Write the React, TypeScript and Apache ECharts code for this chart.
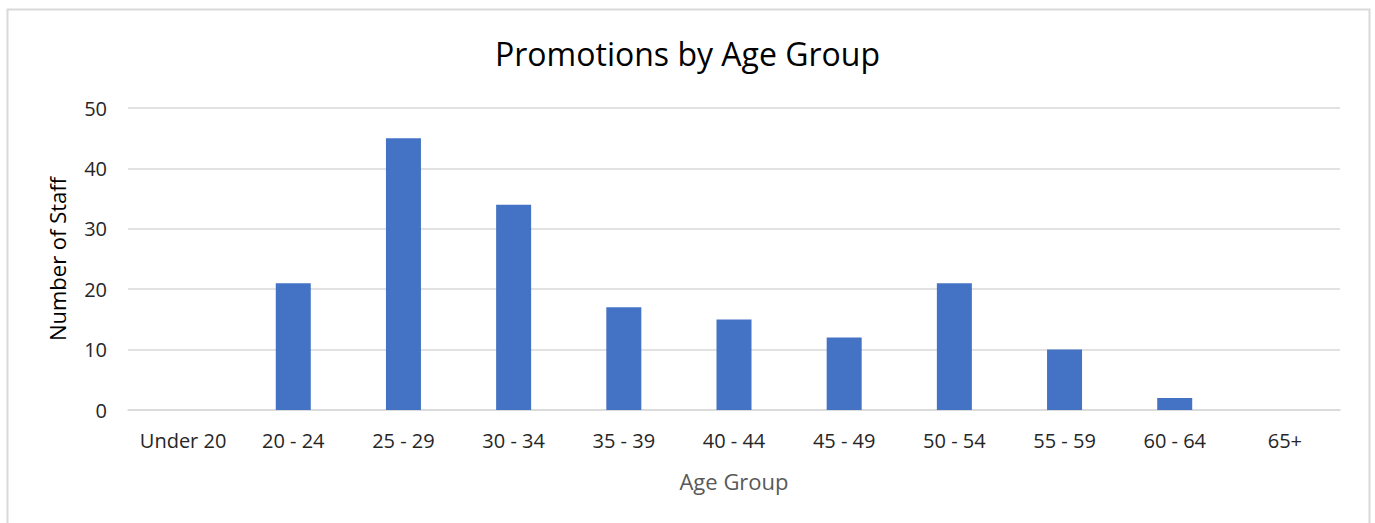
import React, { useEffect, useRef } from "react";
import * as echarts from "echarts";

const categories = ["Under 20", "20 - 24", "25 - 29", "30 - 34", "35 - 39", "40 - 44", "45 - 49", "50 - 54", "55 - 59", "60 - 64", "65+"];
const values = [0, 21, 45, 34, 17, 15, 12, 21, 10, 2, 0];
const chartTitle = "Promotions by Age Group";
const xAxisTitle = "Age Group";
const yAxisTitle = "Number of Staff";

const FONT = "'Open Sans', 'Noto Sans', sans-serif";
const TXT = "#595959";

export default function App() {
  const ref = useRef<HTMLDivElement>(null);
  useEffect(() => {
    const chart = echarts.init(ref.current!, null, { renderer: "svg" });
    chart.setOption({
      animation: false,
      backgroundColor: "#ffffff",
      textStyle: { fontFamily: FONT },
      title: {
        text: chartTitle,
        left: "center",
        top: 32,
        textStyle: { fontFamily: FONT, fontSize: 32, fontWeight: "normal", color: "#000000" },
      },
      grid: { left: 128, right: 35, top: 108, bottom: 113, containLabel: false },
      xAxis: {
        type: "category",
        data: categories,
        name: xAxisTitle,
        nameLocation: "middle",
        nameGap: 60,
        nameTextStyle: { fontFamily: FONT, fontSize: 22, color: TXT },
        axisLine: { show: true, lineStyle: { color: "#d9d9d9", width: 1.5 } },
        axisTick: { show: false },
        axisLabel: { interval: 0, fontFamily: FONT, fontSize: 20, color: "#262626", margin: 20 },
      },
      yAxis: {
        type: "value",
        min: 0,
        max: 50,
        interval: 10,
        name: yAxisTitle,
        nameLocation: "middle",
        nameGap: 60,
        nameTextStyle: { fontFamily: FONT, fontSize: 22, color: "#000000" },
        axisLine: { show: false },
        axisTick: { show: false },
        axisLabel: { fontFamily: FONT, fontSize: 20, color: "#262626", margin: 21 },
        splitLine: { lineStyle: { color: "#d9d9d9", width: 1.5 } },
      },
      series: [
        {
          type: "bar",
          data: values,
          barWidth: 35,
          itemStyle: { color: "#4472C4" },
        },
      ],
      graphic: [
        {
          type: "rect",
          silent: true,
          shape: { x: 7.5, y: 9.5, width: 1362, height: 530 },
          style: { fill: "none", stroke: "#d9d9d9", lineWidth: 2 },
        },
      ],
    });
    return () => chart.dispose();
  }, []);
  return (
    <div
      ref={ref}
      style={{ position: "absolute", left: 0, top: 0, width: 1375, height: 523 }}
    />
  );
}
